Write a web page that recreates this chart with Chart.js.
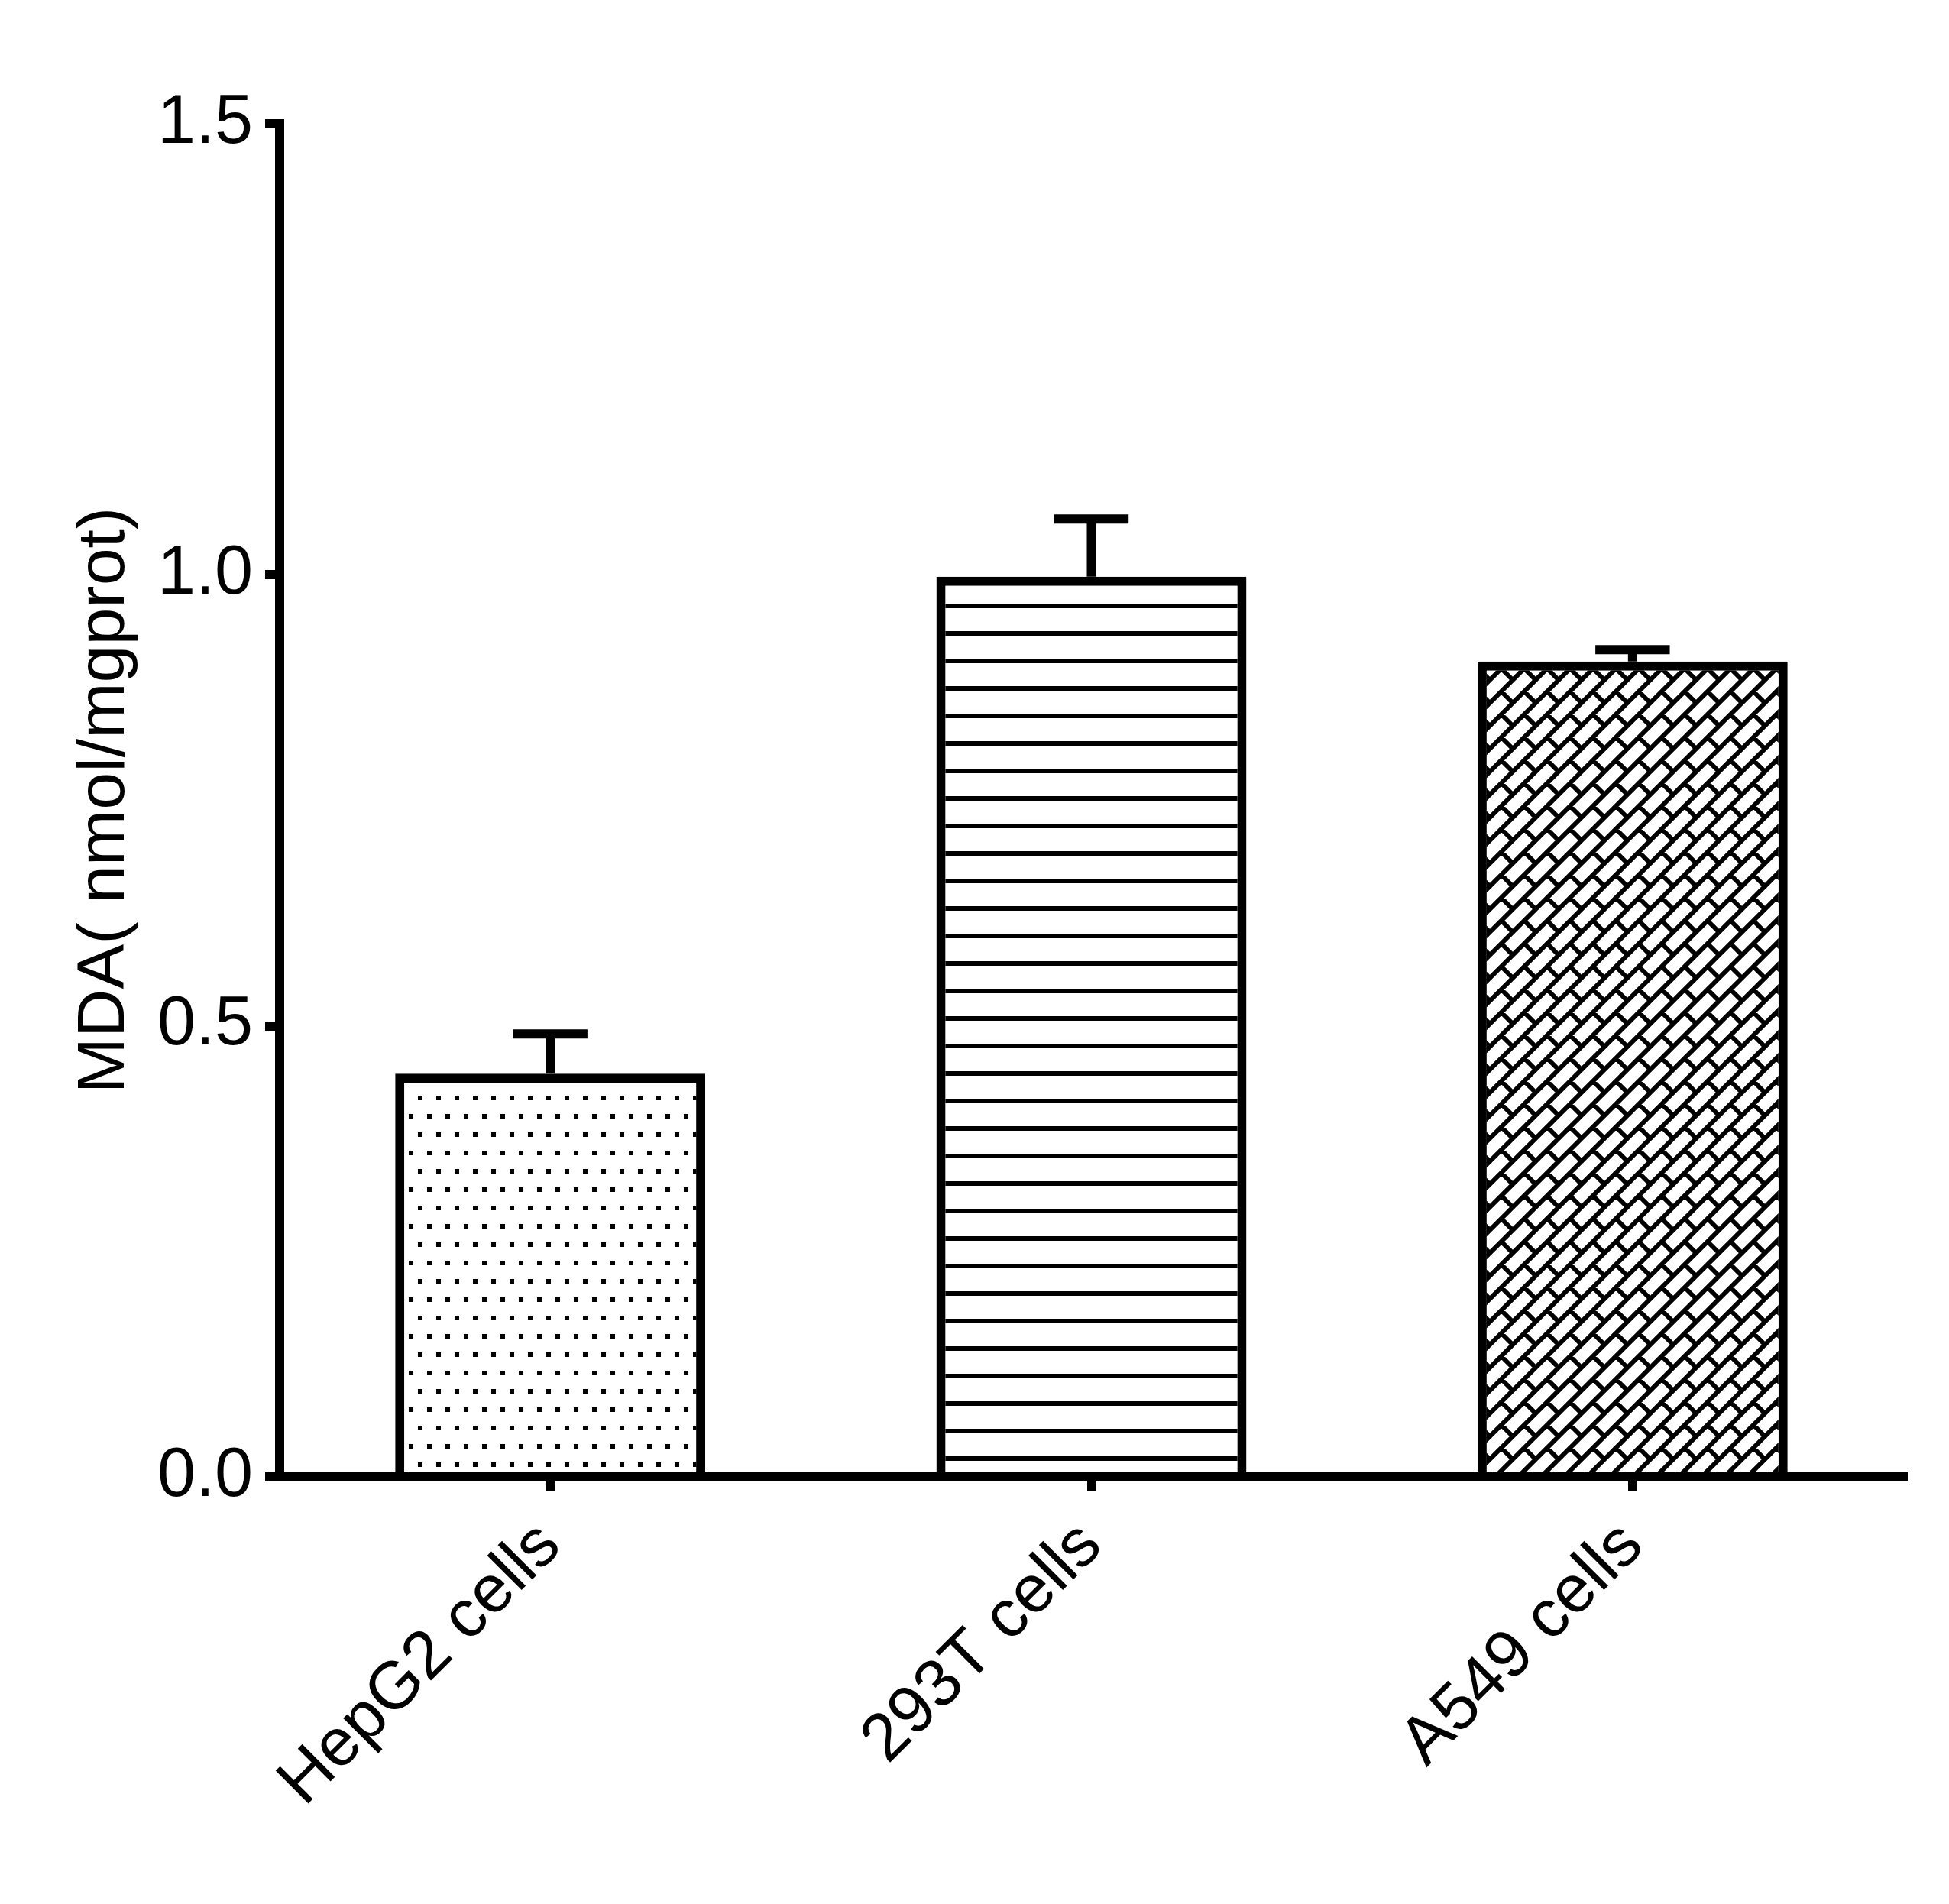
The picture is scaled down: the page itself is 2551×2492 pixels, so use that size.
<!DOCTYPE html>
<html lang="en">
<head>
    <meta charset="UTF-8">
    <title>MDA levels</title>
    <script src="https://cdn.jsdelivr.net/npm/chart.js@4.4.1/dist/chart.umd.min.js"></script>
    <style>
        html, body {
            margin: 0;
            padding: 0;
            background: #fff;
            overflow: hidden;
        }
        canvas {
            display: block;
        }
    </style>
</head>
<body>
    <canvas id="chart" width="2551" height="2492"></canvas>

    <script>
        const categories = ['HepG2 cells', '293T cells', 'A549 cells'];
        const meanValues = [0.447, 0.998, 0.904];
        const semValues = [0.044, 0.064, 0.013];
        const yTicks = [0, 0.5, 1.0, 1.5];
        const yTitle = 'MDA( nmol/mgprot)';

        const FONT = "'Liberation Sans', Arial, sans-serif";

        // small tiles used as fills, like the hatch styles of the original figure
        function tile(w, h, drawFn) {
            const c = document.createElement('canvas');
            c.width = w;
            c.height = h;
            const g = c.getContext('2d');
            g.fillStyle = '#fff';
            g.fillRect(0, 0, w, h);
            g.fillStyle = '#000';
            g.strokeStyle = '#000';
            drawFn(g, w, h);
            return g.createPattern(c, 'repeat');
        }

        const dotFill = tile(24, 48, (g, w, h) => {
            [[19, 42], [7, 18]].forEach(([x, y]) => {
                for (let dx = -w; dx <= w; dx += w) {
                    for (let dy = -h; dy <= h; dy += h) {
                        g.fillRect(x + dx, y + dy, 6, 6);
                    }
                }
            });
        });

        const lineFill = tile(8, 36, (g, w, h) => {
            g.fillRect(0, -2, w, 6);
            g.fillRect(0, 34, w, 6);
        });

        const brickFill = tile(30, 30, (g) => {
            g.lineWidth = 6;
            g.lineCap = 'butt';
            g.beginPath();
            for (let n = -2; n <= 3; n++) {
                const c = 20 + 30 * n;
                g.moveTo(c + 20, -20);
                g.lineTo(c - 50, 50);
            }
            for (let k = -1; k <= 1; k++) {
                for (let j = -1; j <= 1; j++) {
                    g.moveTo(15 + 30 * k, 5 + 30 * j);
                    g.lineTo(30 + 30 * k, 20 + 30 * j);
                }
            }
            g.stroke();
        });

        const errorBars = {
            id: 'errorBars',
            afterDatasetsDraw(chart) {
                const { ctx, scales: { y } } = chart;
                const meta = chart.getDatasetMeta(0);
                ctx.save();
                ctx.strokeStyle = '#000';
                ctx.lineWidth = 12;
                ctx.lineCap = 'butt';
                meta.data.forEach((bar, i) => {
                    const top = y.getPixelForValue(meanValues[i] + semValues[i]);
                    const half = bar.width * 0.12;
                    ctx.beginPath();
                    ctx.moveTo(bar.x, bar.y);
                    ctx.lineTo(bar.x, top);
                    ctx.moveTo(bar.x - half, top);
                    ctx.lineTo(bar.x + half, top);
                    ctx.stroke();
                });
                ctx.restore();
            }
        };

        new Chart(document.getElementById('chart'), {
            type: 'bar',
            data: {
                labels: categories,
                datasets: [{
                    data: meanValues,
                    backgroundColor: [dotFill, lineFill, brickFill],
                    borderColor: '#000',
                    borderWidth: 12,
                    borderSkipped: 'start',
                    barPercentage: 0.573,
                    categoryPercentage: 1.0
                }]
            },
            options: {
                responsive: false,
                devicePixelRatio: 1,
                animation: false,
                layout: {
                    padding: { top: 162, right: 60, bottom: 0, left: 0 }
                },
                plugins: {
                    legend: { display: false },
                    tooltip: { enabled: false }
                },
                scales: {
                    x: {
                        offset: true,
                        grid: {
                            display: true,
                            drawOnChartArea: false,
                            offset: false,
                            tickLength: 19,
                            lineWidth: 12,
                            color: '#000'
                        },
                        border: { display: true, width: 12, color: '#000', z: 1 },
                        ticks: {
                            autoSkip: false,
                            minRotation: 45,
                            maxRotation: 45,
                            padding: 20,
                            color: '#000',
                            font: { family: FONT, size: 88 }
                        },
                        afterFit(scale) {
                            scale.height = 559;
                        }
                    },
                    y: {
                        min: 0,
                        max: 1.5,
                        afterBuildTicks(scale) {
                            scale.ticks = yTicks.map(v => ({ value: v }));
                        },
                        grid: {
                            display: true,
                            drawOnChartArea: false,
                            tickLength: 19,
                            lineWidth: 12,
                            color: '#000'
                        },
                        border: { display: true, width: 12, color: '#000', z: 1 },
                        ticks: {
                            padding: 16,
                            color: '#000',
                            font: { family: FONT, size: 90 },
                            callback: v => Number(v).toFixed(1)
                        },
                        title: {
                            display: true,
                            text: yTitle,
                            color: '#000',
                            font: { family: FONT, size: 88, lineHeight: 1.2 },
                            padding: { top: 85, bottom: 0 }
                        },
                        afterFit(scale) {
                            scale.width = 366;
                        }
                    }
                }
            },
            plugins: [errorBars]
        });
    </script>
</body>
</html>
